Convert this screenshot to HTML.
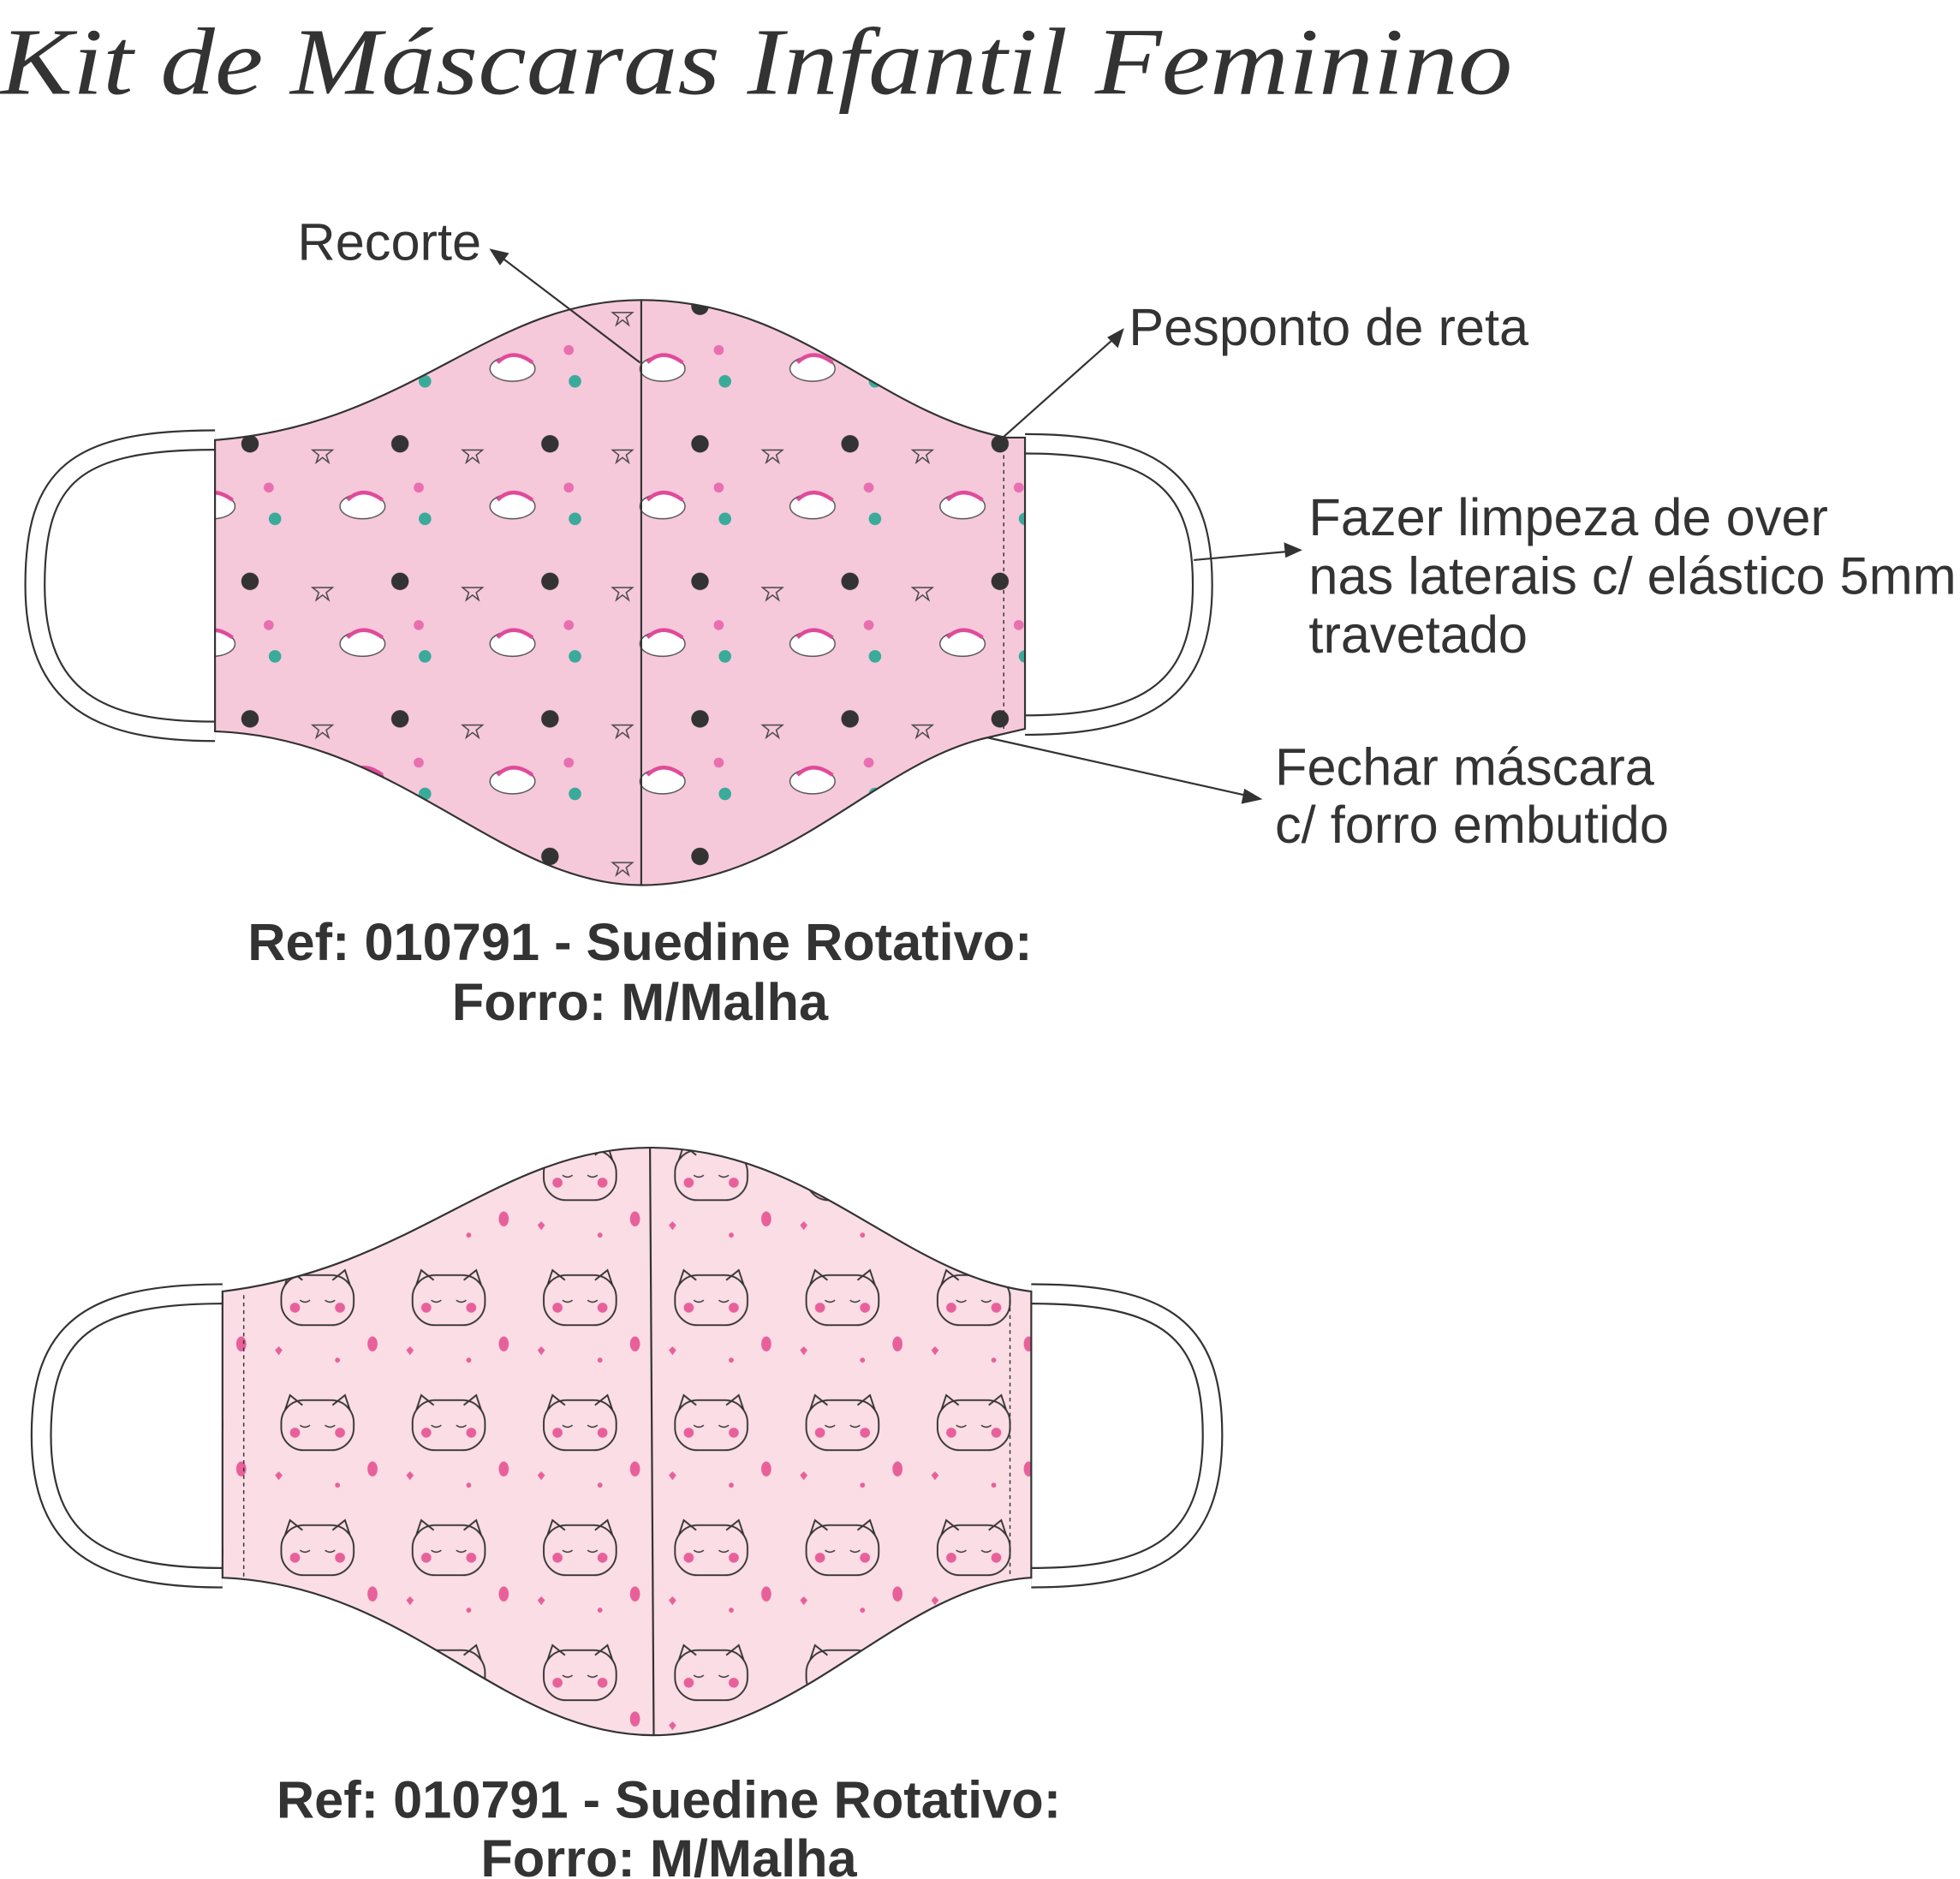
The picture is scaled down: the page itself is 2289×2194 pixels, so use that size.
<!DOCTYPE html>
<html><head><meta charset="utf-8"><style>
html,body{margin:0;padding:0;background:#fff;}
svg{display:block}
</style></head><body>
<svg width="2289" height="2194" viewBox="0 0 1568 1503" preserveAspectRatio="none" xmlns="http://www.w3.org/2000/svg">
<defs>
<pattern id="p1" width="120" height="110" patternUnits="userSpaceOnUse">
<rect width="120" height="110" fill="#f6c9da"/>
<path d="M20 30 l6 0 l-5 4 l2 6 l-5-4 l-5 4 l2-6 l-5-4 l6 0 z" fill="none" stroke="#444" stroke-width="1"/>
<circle cx="80" cy="25" r="7" fill="#333"/>
<ellipse cx="50" cy="75" rx="18" ry="10" fill="#fff" stroke="#555" stroke-width="1"/>
<path d="M38 70 q12 -12 28 0" stroke="#e04a9a" stroke-width="3" fill="none"/>
<circle cx="100" cy="85" r="5" fill="#3aaa9a"/>
<circle cx="95" cy="60" r="4" fill="#e86fb0"/>
</pattern>
<pattern id="p2" width="105" height="100" patternUnits="userSpaceOnUse">
<rect width="105" height="100" fill="#fbdde6"/>
<rect x="15" y="20" width="58" height="40" rx="18" fill="#fbdde6" stroke="#333" stroke-width="1.3"/>
<path d="M18 28 l4 -12 l10 8 M70 28 l-4 -12 l-10 8" fill="none" stroke="#333" stroke-width="1.3"/>
<circle cx="26" cy="46" r="4" fill="#e8609a"/><circle cx="62" cy="46" r="4" fill="#e8609a"/>
<path d="M30 40 q4 3 8 0 M50 40 q4 3 8 0" stroke="#333" fill="none"/>
<ellipse cx="88" cy="75" rx="4" ry="6" fill="#e8609a"/>
<path d="M10 80 l3 -3 l3 3 l-3 4 z" fill="#e8609a"/>
<circle cx="60" cy="88" r="2" fill="#e8609a"/>
</pattern>
</defs>
<text x="0" y="75" font-family="Liberation Serif, serif" font-style="italic" font-size="76" fill="#333" textLength="1210" lengthAdjust="spacingAndGlyphs">Kit de Máscaras Infantil Feminino</text>

<path d="M172 352 C60 352 28 380 28 468 C28 560 80 585 172 585" fill="none" stroke="#333" stroke-width="17"/>
<path d="M172 352 C60 352 28 380 28 468 C28 560 80 585 172 585" fill="none" stroke="#fff" stroke-width="14"/>
<path d="M820 355 C930 355 962 390 962 468 C962 550 920 580 820 580" fill="none" stroke="#333" stroke-width="17"/>
<path d="M820 355 C930 355 962 390 962 468 C962 550 920 580 820 580" fill="none" stroke="#fff" stroke-width="14"/>
<path d="M172 352 C330 340 390 240 513 240 C640 240 700 330 805 350 L820 350 L820 583 L790 590 C700 610 630 708 513 708 C400 708 320 590 172 585 Z" fill="url(#p1)" stroke="#333" stroke-width="1.5"/>
<line x1="513" y1="240" x2="513" y2="708" stroke="#333" stroke-width="1.5"/>
<line x1="803" y1="352" x2="803" y2="585" stroke="#333" stroke-width="1" stroke-dasharray="3,3"/>

<path d="M178 1035 C70 1035 33 1065 33 1148 C33 1235 80 1262 178 1262" fill="none" stroke="#333" stroke-width="17"/>
<path d="M178 1035 C70 1035 33 1065 33 1148 C33 1235 80 1262 178 1262" fill="none" stroke="#fff" stroke-width="14"/>
<path d="M825 1035 C935 1035 970 1065 970 1148 C970 1235 925 1262 825 1262" fill="none" stroke="#333" stroke-width="17"/>
<path d="M825 1035 C935 1035 970 1065 970 1148 C970 1235 925 1262 825 1262" fill="none" stroke="#fff" stroke-width="14"/>
<path d="M178 1033 C330 1015 400 918 520 918 C650 918 720 1020 825 1033 L825 1262 C720 1268 640 1388 523 1388 C400 1388 330 1268 178 1262 Z" fill="url(#p2)" stroke="#333" stroke-width="1.5"/>
<line x1="520" y1="918" x2="523" y2="1388" stroke="#333" stroke-width="1.5"/>
<line x1="195" y1="1036" x2="195" y2="1262" stroke="#333" stroke-width="1" stroke-dasharray="3,3"/>
<line x1="808" y1="1034" x2="808" y2="1262" stroke="#333" stroke-width="1" stroke-dasharray="3,3"/>

<g stroke="#333" stroke-width="1.5" fill="#333">
<line x1="512" y1="290" x2="400" y2="205"/><path d="M393 200 l13 3 l-6 8 z"/>
<line x1="800" y1="352" x2="892" y2="270"/><path d="M898 264 l-4 13 l-7 -7 z"/>
<line x1="955" y1="448" x2="1032" y2="441"/><path d="M1040 440 l-12 -5 l1 10 z"/>
<line x1="790" y1="590" x2="1000" y2="637"/><path d="M1008 639 l-12 -7 l-2 10 z"/>
</g>

<g font-family="Liberation Sans, sans-serif" fill="#333" font-size="42">
<text x="238" y="208">Recorte</text>
<text x="903" y="276">Pesponto de reta</text>
<text x="1047" y="428">Fazer limpeza de over</text>
<text x="1047" y="475">nas laterais c/ elástico 5mm</text>
<text x="1047" y="522">travetado</text>
<text x="1020" y="628">Fechar máscara</text>
<text x="1020" y="674">c/ forro embutido</text>
</g>
<g font-family="Liberation Sans, sans-serif" fill="#333" font-size="42" font-weight="bold" text-anchor="middle">
<text x="512" y="768">Ref: 010791 - Suedine Rotativo:</text>
<text x="512" y="816">Forro: M/Malha</text>
<text x="535" y="1454">Ref: 010791 - Suedine Rotativo:</text>
<text x="535" y="1501">Forro: M/Malha</text>
</g>
</svg>
</body></html>
